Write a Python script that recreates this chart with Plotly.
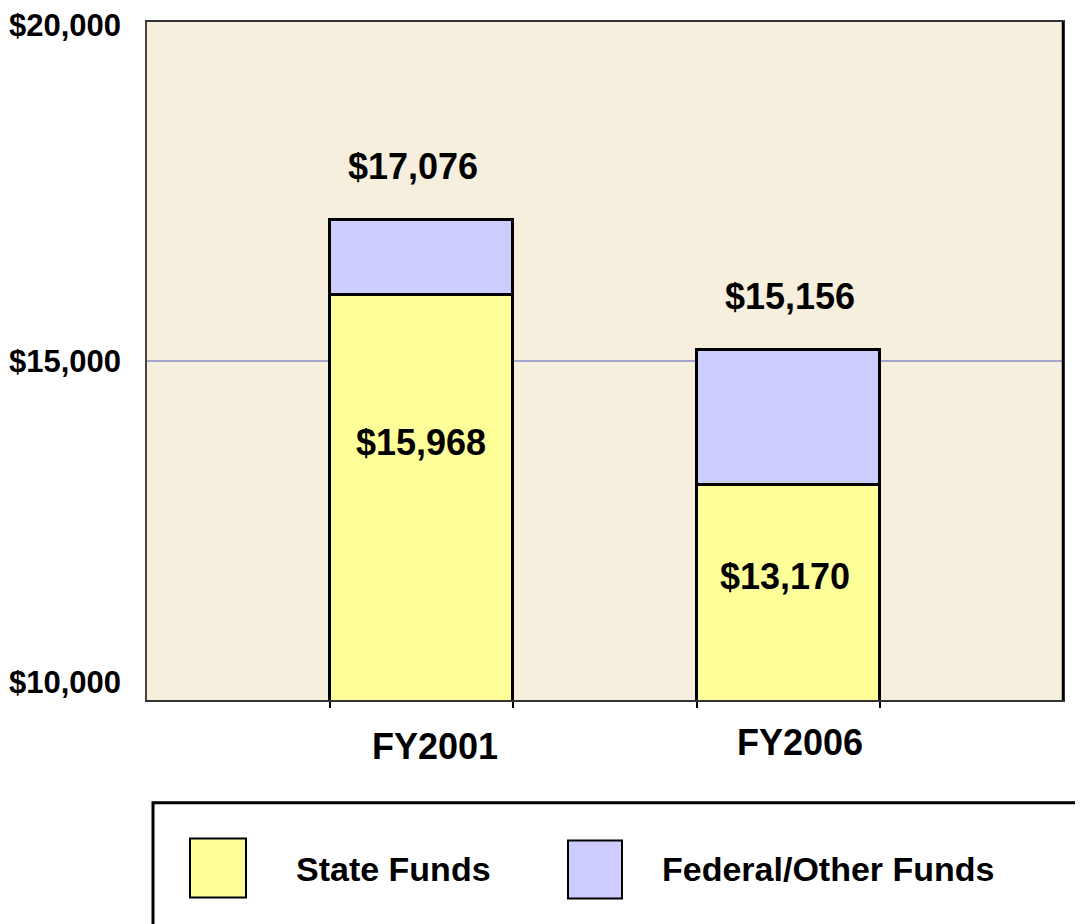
import plotly.graph_objects as go

# ---- data ----
years = ["FY2001", "FY2006"]
state_funds = [15968, 13170]
federal_other = [1108, 1986]
y_ticks = [10000, 15000, 20000]
y_tick_labels = ["$10,000", "$15,000", "$20,000"]
series_names = ["State Funds", "Federal/Other Funds"]

totals = [s + f for s, f in zip(state_funds, federal_other)]
xpos = list(range(len(years)))

FONT = "Liberation Sans, Arial, sans-serif"
YELLOW = "#FFFF99"
LAV = "#CCCCFF"
BG = "#F7EFDD"

OFF = 8  # page body margin
W, H = 1083, 924
L, R, T, B = 147 - OFF, 1083 - (1063 - OFF), 20 - OFF, 924 - (700 - OFF)
PW, PH = W - L - R, H - T - B


def px_x(px):
    return (px - OFF - L) / PW


def px_y(py):
    return (H - B - (py - OFF)) / PH


fig = go.Figure()
fig.add_bar(x=xpos, y=state_funds, name=series_names[0], width=0.5,
            marker=dict(color=YELLOW, line=dict(color="black", width=2.8)),
            showlegend=False, hoverinfo="skip")
fig.add_bar(x=xpos, y=federal_other, name=series_names[1], width=0.5,
            marker=dict(color=LAV, line=dict(color="black", width=2.8)),
            showlegend=False, hoverinfo="skip")

ann = []
# totals above bars
for i, t in enumerate(totals):
    ann.append(dict(x=xpos[i], y=t, xref="x", yref="y", text=f"<b>${t:,}</b>",
                    showarrow=False, yshift=54, xshift=-9 if i == 0 else 2,
                    font=dict(family=FONT, size=36, color="black")))
# state labels inside bars
state_shift = [-147, -91]
state_xshift = [-1, -3]
for i, s in enumerate(state_funds):
    ann.append(dict(x=xpos[i], y=s, xref="x", yref="y", text=f"<b>${s:,}</b>",
                    showarrow=False, yshift=state_shift[i], xshift=state_xshift[i],
                    font=dict(family=FONT, size=36, color="black")))
# category labels
cat_xshift = [13, 12]
cat_yshift = [-46, -42]
for i, yl in enumerate(years):
    ann.append(dict(x=xpos[i], y=0, xref="x", yref="paper", text=f"<b>{yl}</b>",
                    showarrow=False, yanchor="middle", yshift=cat_yshift[i],
                    xshift=cat_xshift[i],
                    font=dict(family=FONT, size=36, color="black")))
# y labels
y_shift = {10000: 18, 15000: 0, 20000: -3}
for v, lab in zip(y_ticks, y_tick_labels):
    ann.append(dict(x=0, y=v, xref="paper", yref="y", text=f"<b>{lab}</b>",
                    showarrow=False, xanchor="right", yanchor="middle",
                    xshift=-24, yshift=y_shift[v],
                    font=dict(family=FONT, size=31, color="black")))

# custom legend + black right frame edge
shapes = [
    dict(type="line", xref="paper", yref="paper", x0=1, x1=1, y0=0, y1=1,
         line=dict(color="black", width=2.5)),
    dict(type="rect", xref="paper", yref="paper",
         x0=px_x(153), x1=px_x(1110), y0=px_y(803), y1=px_y(950),
         line=dict(color="black", width=3), fillcolor="white", layer="below"),
    dict(type="rect", xref="paper", yref="paper",
         x0=px_x(190), x1=px_x(246), y0=px_y(839), y1=px_y(898),
         line=dict(color="black", width=2), fillcolor=YELLOW),
    dict(type="rect", xref="paper", yref="paper",
         x0=px_x(568), x1=px_x(622), y0=px_y(841), y1=px_y(899),
         line=dict(color="black", width=2), fillcolor=LAV),
]
for name, lx in zip(series_names, [294, 660]):
    ann.append(dict(x=px_x(lx), y=px_y(869), xref="paper", yref="paper",
                    text=f"<b>{name}</b>", showarrow=False,
                    xanchor="left", yanchor="middle",
                    font=dict(family=FONT, size=34, color="black")))

fig.update_layout(
    width=W, height=H, barmode="stack",
    margin=dict(l=L, r=R, t=T, b=B, pad=0),
    paper_bgcolor="white", plot_bgcolor=BG,
    annotations=ann, shapes=shapes, showlegend=False,
    bargap=0,
)
fig.update_xaxes(range=[-0.75, 1.75], tickvals=[-0.25, 0.25, 0.75, 1.25],
                 ticktext=["", "", "", ""], ticks="outside", ticklen=6,
                 tickwidth=2, tickcolor="black",
                 showgrid=False, zeroline=False, showline=True,
                 linecolor="#333333", linewidth=2, mirror=True)
fig.update_yaxes(range=[10000, 20000], tickvals=[15000], showticklabels=False,
                 ticks="", showgrid=True, gridcolor="#A4A4CC", gridwidth=2,
                 zeroline=False, showline=True, linecolor="#444444",
                 linewidth=2, mirror=True)

fig.write_html("out.html")
